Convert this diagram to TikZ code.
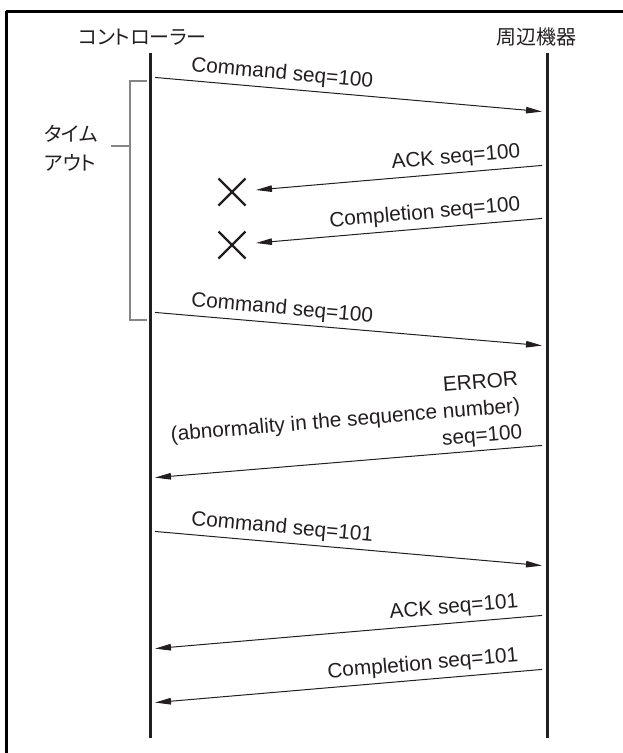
\documentclass[tikz,border=0pt]{standalone}
\usepackage{fontspec}
\setmainfont{Liberation Sans}
\newfontfamily\jpfont[RawFeature={+palt}]{Noto Sans CJK JP}
\usetikzlibrary{arrows.meta}
\definecolor{ink}{HTML}{231F20}
\definecolor{bracketgray}{HTML}{858585}
\begin{document}
\begin{tikzpicture}[x=1pt,y=-1pt,
  frameline/.style={line width=3pt, black},
  lifeline/.style={line width=3pt, ink},
  msg/.style={line width=1pt, ink, -{Triangle[length=16pt,width=6.5pt]},
              shorten <=5pt, shorten >=5pt},
  lostmsg/.style={msg, shorten >=0pt},
  lbl/.style={font=\fontsize{20.8}{24.5}\selectfont, text=ink, inner sep=0pt, sloped},
  party/.style={font=\jpfont\fontsize{20}{24}\selectfont, text=ink, inner sep=0pt},
  lostmark/.style={line width=2.2pt, ink},
  timeout/.style={line width=2.6pt, bracketgray}
]
\useasboundingbox (0,0) rectangle (623,753);

% frame: top and left rules
\draw[frameline] (6,11) -- (630,11);
\draw[frameline] (6,11) -- (6,760);

% participants
\node[party, anchor=west] (ctrl) at (78,37) {コントローラー};
\node[party] (dev) at (536,37) {周辺機器};

% lifelines
\coordinate (ctop) at (150,53);
\coordinate (cbot) at (150,738);
\coordinate (dtop) at (547,53);
\coordinate (dbot) at (547,738);
\draw[lifeline] (ctop) -- (cbot);
\draw[lifeline] (dtop) -- (dbot);

% timeout bracket
\coordinate (bt) at (147,81);
\coordinate (btc) at (130,81);
\coordinate (bbc) at (130,320);
\coordinate (bb) at (147,320);
\coordinate (tick) at (130,146);
\coordinate (tickend) at (111,146);
\draw[timeout] (bt) -- (btc) -- (bbc) -- (bb);
\draw[timeout] (tick) -- (tickend);
\node[party, align=left, anchor=west, font=\jpfont\fontsize{20}{29}\selectfont]
  (tolabel) at (44,148) {タイム\\アウト};

% message end points
\coordinate (c1) at (150,77);   \coordinate (p1) at (547,112);
\coordinate (p2) at (547,165);  \coordinate (a2) at (256,190);
\coordinate (p3) at (547,218);  \coordinate (a3) at (256,243);
\coordinate (c4) at (150,312);  \coordinate (p4) at (547,346);
\coordinate (p5) at (547,445);  \coordinate (c5) at (150,478);
\coordinate (c6) at (150,531);  \coordinate (p6) at (547,566);
\coordinate (p7) at (547,615);  \coordinate (c7) at (150,649);
\coordinate (p8) at (547,669);  \coordinate (c8) at (150,703);

% messages
\draw[msg] (c1) -- node[lbl, pos=0.1, anchor=base west, yshift=9pt] {Command seq=100} (p1);
\draw[lostmsg] (p2) -- node[lbl, pos=0.086, anchor=base east, yshift=9.5pt] {ACK seq=100} (a2);
\draw[lostmsg] (p3) -- node[lbl, pos=0.086, anchor=base east, yshift=9.5pt] {Completion seq=100} (a3);
\draw[msg] (c4) -- node[lbl, pos=0.1, anchor=base west, yshift=9pt] {Command seq=100} (p4);
\draw[msg] (p5) -- node[lbl, pos=0.058, anchor=south east, align=right, yshift=3.7pt,
  font=\fontsize{20.8}{26.5}\selectfont]
  {ERROR\\(abnormality in the sequence number)\\seq=100} (c5);
\draw[msg] (c6) -- node[lbl, pos=0.1, anchor=base west, yshift=9pt] {Command seq=101} (p6);
\draw[msg] (p7) -- node[lbl, pos=0.068, anchor=base east, yshift=9.5pt] {ACK seq=101} (c7);
\draw[msg] (p8) -- node[lbl, pos=0.068, anchor=base east, yshift=9.5pt] {Completion seq=101} (c8);

% lost-message marks
\coordinate (x1) at (232,192);
\coordinate (x2) at (232,245);
\draw[lostmark] ([shift={(-13.5,-13.5)}]x1) -- ([shift={(13.5,13.5)}]x1)
                ([shift={(-13.5,13.5)}]x1) -- ([shift={(13.5,-13.5)}]x1);
\draw[lostmark] ([shift={(-13.5,-13.5)}]x2) -- ([shift={(13.5,13.5)}]x2)
                ([shift={(-13.5,13.5)}]x2) -- ([shift={(13.5,-13.5)}]x2);
\end{tikzpicture}
\end{document}
